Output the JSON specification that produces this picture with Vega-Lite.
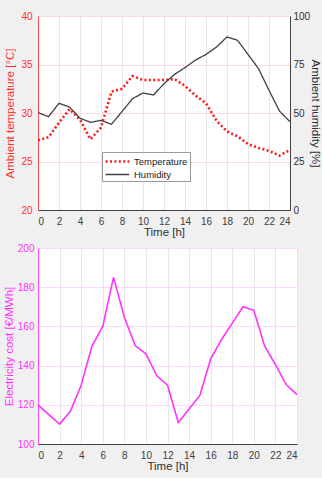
{
  "$schema": "https://vega.github.io/schema/vega-lite/v6.json",
  "background": "#f0f0f0",
  "padding": {"top": 10, "left": 2, "right": 0, "bottom": 6},
  "spacing": 4,
  "config": {
    "font": "Liberation Sans",
    "axis": {"labelFontSize": 10, "titleFontSize": 11.5, "titleFontWeight": "normal", "gridColor": "#e3e3e3", "ticks": false, "labelFont": "Liberation Sans", "titleFont": "Liberation Sans"},
    "legend": {"labelFont": "Liberation Sans"}
  },
  "datasets": {
    "hourly": [
      {"hour": 0, "temperature": 27.2, "humidity": 50.2, "cost": 120},
      {"hour": 1, "temperature": 27.5, "humidity": 48.1, "cost": 115},
      {"hour": 2, "temperature": 29.0, "humidity": 55.0, "cost": 110.2},
      {"hour": 3, "temperature": 30.4, "humidity": 53.1, "cost": 116.7},
      {"hour": 4, "temperature": 29.3, "humidity": 47.3, "cost": 130},
      {"hour": 5, "temperature": 27.3, "humidity": 45.2, "cost": 150},
      {"hour": 6, "temperature": 28.5, "humidity": 46.2, "cost": 160},
      {"hour": 7, "temperature": 32.2, "humidity": 44.2, "cost": 185},
      {"hour": 8, "temperature": 32.5, "humidity": 50.7, "cost": 164.8},
      {"hour": 9, "temperature": 33.8, "humidity": 57.4, "cost": 150.2},
      {"hour": 10, "temperature": 33.4, "humidity": 60.3, "cost": 146},
      {"hour": 11, "temperature": 33.4, "humidity": 59.3, "cost": 134.9},
      {"hour": 12, "temperature": 33.4, "humidity": 65.1, "cost": 130},
      {"hour": 13, "temperature": 33.5, "humidity": 69.9, "cost": 111},
      {"hour": 14, "temperature": 32.8, "humidity": 73.4, "cost": 117.9},
      {"hour": 15, "temperature": 31.8, "humidity": 77.3, "cost": 124.8},
      {"hour": 16, "temperature": 31.0, "humidity": 80.2, "cost": 143.4},
      {"hour": 17, "temperature": 29.2, "humidity": 84.0, "cost": 153.2},
      {"hour": 18, "temperature": 28.1, "humidity": 89.2, "cost": 161.7},
      {"hour": 19, "temperature": 27.6, "humidity": 87.5, "cost": 170},
      {"hour": 20, "temperature": 26.8, "humidity": 80.2, "cost": 168.2},
      {"hour": 21, "temperature": 26.4, "humidity": 72.9, "cost": 150},
      {"hour": 22, "temperature": 26.1, "humidity": 61.7, "cost": 140.5},
      {"hour": 23, "temperature": 25.6, "humidity": 51.0, "cost": 130.3},
      {"hour": 24, "temperature": 26.2, "humidity": 45.5, "cost": 125.2}
    ]
  },
  "vconcat": [
    {
      "width": 252,
      "height": 194,
      "data": {"name": "hourly"},
      "view": {"fill": "white", "stroke": "#9a9a9a"},
      "layer": [
        {
          "mark": {"type": "line", "clip": true},
          "encoding": {
            "x": {"field": "hour", "type": "quantitative", "scale": {"domain": [0, 24], "nice": false},
              "axis": {"values": [0, 2, 4, 6, 8, 10, 12, 14, 16, 18, 20, 22, 24], "tickCount": 30, "labelOverlap": false, "title": "Time [h]", "labelColor": "#404040", "titleColor": "#303030", "domainColor": "#404040", "labelPadding": 6, "titlePadding": 0, "gridColor": "#e6e6e6"}},
            "y": {"field": "temperature", "type": "quantitative", "scale": {"domain": [20, 40], "nice": false, "zero": false},
              "axis": {"values": [20, 25, 30, 35, 40], "tickCount": 10, "labelOverlap": false, "title": "Ambient temperature [°C]", "labelColor": "#ff3030", "titleColor": "#ff3030", "domainColor": "#ff4d4d", "gridColor": "#ffd9d9", "labelPadding": 6, "titlePadding": 5}},
            "color": {"datum": "Temperature", "type": "nominal", "scale": {"domain": ["Temperature", "Humidity"], "range": ["#ff1a1a", "#404040"]},
              "legend": {"title": null, "orient": "none", "legendX": 64, "legendY": 136, "fillColor": "white", "strokeColor": "#9a9a9a", "padding": 2, "symbolType": "M-1,0H3", "symbolSize": 140, "labelFontSize": 9.5, "labelColor": "#202020", "rowPadding": 0.5, "labelOffset": 15}},
            "strokeDash": {"datum": "Temperature", "type": "nominal", "scale": {"domain": ["Temperature", "Humidity"], "range": [[2, 2.4], [1, 0]]}, "legend": {"title": null, "orient": "none", "legendX": 64, "legendY": 136}},
            "strokeWidth": {"datum": "Temperature", "type": "ordinal", "scale": {"domain": ["Temperature", "Humidity"], "range": [2.6, 1.3]}, "legend": {"title": null, "orient": "none", "legendX": 64, "legendY": 136}}
          }
        },
        {
          "mark": {"type": "line", "clip": true},
          "encoding": {
            "x": {"field": "hour", "type": "quantitative"},
            "y": {"field": "humidity", "type": "quantitative", "scale": {"domain": [0, 100], "nice": false},
              "axis": {"orient": "right", "values": [0, 25, 50, 75, 100], "tickCount": 10, "labelOverlap": false, "grid": false, "title": "Ambient humidity [%]", "labelColor": "#303030", "titleColor": "#303030", "domainColor": "#404040", "labelPadding": 3, "titlePadding": 0}},
            "color": {"datum": "Humidity", "type": "nominal"},
            "strokeDash": {"datum": "Humidity", "type": "nominal"},
            "strokeWidth": {"datum": "Humidity", "type": "ordinal"}
          }
        }
      ],
      "resolve": {"scale": {"y": "independent"}}
    },
    {
      "width": 259,
      "height": 196,
      "data": {"name": "hourly"},
      "view": {"fill": "white", "stroke": "#ff66ff"},
      "mark": {"type": "line", "color": "#ff33ff", "strokeWidth": 1.6},
      "encoding": {
        "x": {"field": "hour", "type": "quantitative", "scale": {"domain": [0, 24], "nice": false},
          "axis": {"values": [0, 2, 4, 6, 8, 10, 12, 14, 16, 18, 20, 22, 24], "tickCount": 30, "labelOverlap": false, "title": "Time [h]", "labelColor": "#404040", "titleColor": "#303030", "domainColor": "#404040", "labelPadding": 6, "titlePadding": 0, "gridColor": "#e6e6e6"}},
        "y": {"field": "cost", "type": "quantitative", "scale": {"domain": [100, 200], "nice": false, "zero": false},
          "axis": {"values": [100, 120, 140, 160, 180, 200], "tickCount": 10, "labelOverlap": false, "title": "Electricity cost [€/MWh]", "labelColor": "#ff33ff", "titleColor": "#ff33ff", "domainColor": "#ff4dff", "gridColor": "#ffd9ff", "labelPadding": 4, "titlePadding": 3}}
      }
    }
  ]
}
